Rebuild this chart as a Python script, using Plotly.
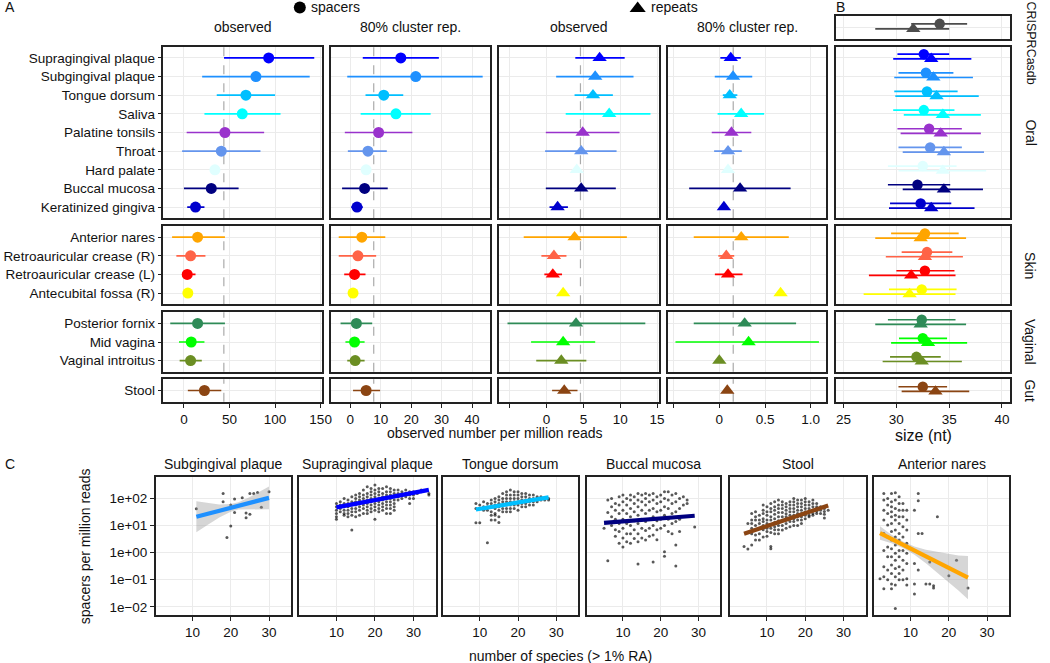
import plotly.graph_objects as go

W, H = 1050, 663
FONT = "Liberation Sans, Arial, sans-serif"
GRID = "#EBEBEB"
BORDER = "#222222"
TXT = "#111111"
TICKSIZE = 13.5

# ------------------------------------------------------------------ data
oral_sites = ["Supragingival plaque", "Subgingival plaque", "Tongue dorsum", "Saliva",
              "Palatine tonsils", "Throat", "Hard palate", "Buccal mucosa", "Keratinized gingiva"]
skin_sites = ["Anterior nares", "Retroauricular crease (R)", "Retroauricular crease (L)",
              "Antecubital fossa (R)"]
vaginal_sites = ["Posterior fornix", "Mid vagina", "Vaginal introitus"]
gut_sites = ["Stool"]
body_groups = ["Oral", "Skin", "Vaginal", "Gut"]

site_colors = ["#0000FF", "#1E90FF", "#00BFFF", "#00FFFF", "#9932CC", "#6495ED", "#E0FFFF",
               "#000080", "#0000CD", "#FFA500", "#FF6347", "#FF0000", "#FFFF00",
               "#2E8B57", "#00FF00", "#6B8E23", "#8B4513"]
db_color = "#4D4D4D"

# spacers, observed
sp_obs = [93, 79, 68, 64, 45, 41, 34, 30, 12.7, 15, 7.3, 3.6, 4.3, 15, 8, 7.3, 22.5]
sp_obs_lo = [44, 20, 36, 22.5, 3, -2, None, 0, 3.6, -13, -8.3, -2, None, -15, -5.4, -4.7, 4.3]
sp_obs_hi = [143, 138, 100, 106, 88, 84, None, 60, 22.5, 45, 23.6, 12.7, None, 45, 22.5, 19.6, 41]
# spacers, 80% cluster rep.
sp_rep = [16.6, 21.5, 11, 15, 9.3, 5.8, 5.2, 4.7, 2.2, 3.8, 2.5, 1.4, 0.9, 2, 1.4, 1.6, 5.2]
sp_rep_lo = [4.1, -1, 5, 3.4, -1.8, -0.8, None, -2.7, 0.3, -3.8, -3.8, -2, None, -3.2, -1.6, -1, 0.9]
sp_rep_hi = [29.1, 43.5, 17.4, 26.4, 20.4, 12, None, 12.3, 4.1, 11.5, 8.5, 5, None, 7.2, 4.7, 4.7, 9.8]
# repeats, observed
rp_obs = [7.2, 6.6, 6.3, 8.5, 4.9, 4.7, 4.1, 4.7, 1.5, 3.8, 1.0, 0.85, 2.25, 4.0, 2.25, 2.0, 2.4]
rp_obs_lo = [3.9, 1.3, 3.8, 2.6, -0.1, -0.2, None, -0.1, 0.4, -3.1, -0.7, -0.3, None, -5.3, -2.1, -1.4, 0.75]
rp_obs_hi = [10.6, 11.8, 9.0, 14.1, 9.9, 9.5, None, 9.4, 2.9, 10.9, 2.7, 2.1, None, 13.4, 6.6, 5.4, 4.2]
# repeats, 80% cluster rep.
rp_rep = [0.125, 0.15, 0.114, 0.239, 0.133, 0.095, 0.095, 0.227, 0.05, 0.24, 0.076, 0.095, 0.67,
          0.277, 0.32, 0.0, 0.087]
rp_rep_lo = [0.011, -0.05, 0.038, -0.019, -0.083, -0.057, None, -0.33, None, -0.28, -0.011, -0.049,
             None, -0.28, -0.48, None, None]
rp_rep_hi = [0.235, 0.36, 0.197, 0.49, 0.35, 0.246, None, 0.78, None, 0.76, 0.163, 0.254, None,
             0.84, 1.09, None, None]
mean_lines = [43.8, 7.7, 4.6, 0.152]

# B: size (nt)
size_sp = [32.6, 32.8, 32.9, 32.6, 33.1, 33.2, 32.5, 32.0, 32.3, 32.7, 32.9, 32.7, 32.4, 32.4, 32.5, 31.9, 32.5]
size_sp_lo = [30.1, 30.2, 29.8, 29.7, 30.1, 30.2, 29.2, 29.2, 29.4, 29.5, 30.5, 30.0, 29.3, 29.2, 30.25, 29.4, 30.2]
size_sp_hi = [35.0, 35.4, 35.8, 35.5, 36.2, 36.2, 35.7, 35.1, 35.2, 35.9, 35.3, 35.5, 35.7, 35.6, 34.8, 34.2, 34.8]
size_rp = [33.3, 33.5, 33.8, 34.4, 34.2, 34.5, 34.4, 34.5, 33.3, 32.3, 32.7, 31.4, 31.25, 32.3, 33.0, 32.4, 33.7]
size_rp_lo = [29.7, 29.8, 29.9, 30.7, 30.4, 30.6, 30.2, 30.6, 29.3, 28.0, 29.0, 27.4, 26.9, 28.0, 29.5, 28.7, 30.5]
size_rp_hi = [37.1, 37.25, 37.8, 38.0, 38.0, 38.3, 38.5, 38.2, 37.4, 36.6, 36.3, 35.6, 35.6, 36.6, 36.7, 36.2, 36.9]
db_size_sp = [34.1, 31.4, 36.7]
db_size_rp = [31.6, 28.0, 35.0]

# C: spacers per million reads vs number of species
c_titles = ["Subgingival plaque", "Supragingival plaque", "Tongue dorsum", "Buccal mucosa", "Stool",
            "Anterior nares"]
c_colors = ["#1E90FF", "#0000FF", "#00BFFF", "#000080", "#8B4513", "#FFA500"]

sub_x = [11, 18, 18, 19, 20, 20, 21, 21, 23, 24, 24, 25, 25, 26, 27, 28, 30]
sub_y = [42, 153, 75, 3.6, 57, 9.6, 95, 30, 105, 29, 19.5, 26, 153, 152, 166, 47, 176]

supra_x = [10, 11, 12, 13, 14, 15, 16, 17, 18, 19, 20, 21, 22, 23, 24, 25, 26, 27, 28, 29, 30, 31, 32, 34]
supra_y = [[65, 49, 37, 28, 21, 17], [75, 57, 43, 32], [100, 65, 49, 37, 28, 24],
           [87, 65, 49, 37, 28, 21], [115, 75, 57, 43, 32, 24, 6.8], [133, 100, 75, 57, 43, 32, 21],
           [153, 115, 87, 65, 49, 37, 24], [203, 133, 100, 75, 57, 43, 28],
           [270, 153, 115, 87, 65, 49, 37, 28], [234, 176, 133, 100, 75, 57, 43, 32],
           [310, 203, 153, 115, 87, 65, 49, 37, 17], [234, 176, 133, 100, 75, 57, 43, 32],
           [234, 153, 115, 87, 65, 49, 37], [270, 176, 133, 100, 75, 57, 43, 28],
           [234, 176, 133, 100, 75, 57, 43, 28], [203, 153, 115, 87, 65, 49, 37],
           [203, 153, 115, 87], [176, 133, 100], [203, 153, 115], [176, 133, 100, 65],
           [176, 133, 100], [176, 153], [203, 176], [153, 134]]

tongue_x = [9, 10, 11, 12, 13, 14, 15, 16, 17, 18, 19, 20, 21, 22, 23, 24, 25, 26, 27, 28]
tongue_y = [[65, 43, 12.6], [57, 43, 12.6], [75, 49, 37], [65, 49, 37, 2.3], [87, 65, 49, 32, 24, 16],
            [100, 75, 57, 43, 28, 24, 16], [115, 87, 65, 49, 37, 21, 13], [153, 100, 75, 57, 43, 32],
            [176, 133, 100, 75, 57, 43, 32], [203, 133, 100, 75, 57, 43, 32],
            [176, 133, 100, 75, 57, 43], [176, 133, 100, 75, 57, 37], [153, 115, 87, 65, 49],
            [153, 115, 87, 65, 49], [133, 100, 75, 57], [133, 100, 75, 57], [115, 100, 75],
            [115, 87], [100, 87], [100, 87]]

buccal_x = [5, 6, 7, 8, 9, 10, 11, 12, 13, 14, 15, 16, 17, 18, 19, 20, 21, 22, 23, 24, 25, 26, 27, 29]
buccal_y = [[8], [87, 30, 0.5], [100, 49, 21, 10], [65, 37, 17, 7, 4], [115, 57, 28, 12, 6, 2.2],
            [133, 75, 37, 17, 8, 3.5, 1.6], [100, 57, 28, 12, 5, 2.5],
            [133, 87, 43, 21, 10, 5, 2.2], [115, 65, 32, 15, 7, 3.3],
            [153, 87, 49, 24, 12, 5, 2.5, 0.38], [133, 75, 37, 17, 8, 3.5],
            [153, 100, 57, 28, 14, 6.5, 2.9], [133, 75, 37, 17, 8, 4],
            [153, 87, 43, 21, 10, 4.5, 0.45], [115, 65, 32, 15, 7, 3], [133, 75, 37, 17, 8],
            [176, 100, 49, 24, 10, 1.07, 0.74], [176, 87, 43, 17, 6], [133, 65, 28, 12, 5],
            [153, 75, 32, 14, 1.9, 0.32], [100, 43, 17, 6], [115, 57], [87, 65], [8.9]]

stool_x = [4, 5, 6, 7, 8, 9, 10, 11, 12, 13, 14, 15, 16, 17, 18, 19, 20, 21, 22, 23, 24, 25, 26]
stool_y = [[1.7], [12, 1.35], [28, 16, 12, 8, 5, 1.9], [32, 21, 16, 10, 7, 4.5, 2.9],
           [24, 16, 12, 8, 5, 2.9], [57, 37, 28, 18, 14, 10, 7, 3.8], [49, 32, 24, 16, 12, 8, 6, 4],
           [65, 43, 32, 21, 16, 11, 8, 5.5, 1.7, 1.4], [75, 49, 37, 26, 18, 13, 9, 7, 5],
           [87, 57, 43, 30, 21, 15, 10, 7, 5], [75, 57, 43, 30, 21, 15, 10, 6.8],
           [65, 49, 37, 27, 21, 16, 12, 8], [75, 57, 43, 32, 24, 18, 14, 9],
           [100, 75, 57, 43, 32, 24, 18, 14, 10], [87, 65, 49, 37, 28, 21, 16, 10],
           [87, 65, 49, 37, 28, 21, 16, 12], [100, 75, 57, 43, 32, 24, 18],
           [75, 57, 43, 32, 24, 21], [87, 65, 49, 37, 28, 24], [65, 49, 43, 34, 28],
           [49, 37, 28], [43, 33, 26, 19], [37]]

nares_x = [2, 3, 4, 5, 6, 7, 8, 9, 11, 12, 13, 14, 15, 16, 17, 20, 22, 25]
nares_y = [[0.11],
           [153, 87, 37, 16, 5.1, 1.2, 0.3, 0.13, 0.047],
           [100, 57, 28, 10.4, 3.8, 1.6, 0.7, 0.23, 0.1],
           [153, 75, 49, 32, 21, 12, 6, 2.9, 1.4, 0.7, 0.35, 0.17, 0.07, 0.047],
           [162, 87, 43, 24, 16, 6.8, 3.8, 1.9, 0.95, 0.53, 0.26, 0.13, 0.064, 0.0087],
           [115, 65, 37, 21, 12, 5.1, 2.9, 1.2, 0.7, 0.3, 0.17, 0.1],
           [65, 37, 21, 9, 3.8, 1.2, 0.53, 0.23, 0.1],
           [37, 16, 6.8, 2.2, 0.95, 0.4, 0.11, 0.064],
           [37, 0.4, 0.07, 0.03],
           [153, 82, 5.1, 0.23],
           [5.1],
           [0.07],
           [0.45, 0.07],
           [0.06, 0.05],
           [21],
           [0.14],
           [0.53],
           [0.05]]

fit_x = [[11, 30], [10, 34], [9, 28], [5, 29], [4, 26], [2, 25]]
fit_y = [[21, 105], [47, 208], [39, 109], [12.5, 23], [5, 55], [5.3, 0.12]]

sub_ci_x = [11, 14, 17, 20, 22, 25, 28, 30]
sub_ci_lo = [5.6, 10.7, 20, 32, 39, 41, 40, 40]
sub_ci_hi = [78, 68, 60, 62, 72, 114, 193, 275]
nares_ci_x = [2, 5, 8, 11, 14, 17, 20, 22.5, 25]
nares_ci_lo = [3.0, 2.2, 1.48, 0.84, 0.41, 0.18, 0.081, 0.040, 0.019]
nares_ci_hi = [9.5, 4.6, 2.56, 1.67, 1.28, 1.06, 0.89, 0.79, 0.76]

# ------------------------------------------------------------------ helpers
fig = go.Figure()
layout = {}
annotations = []
shapes = []
n_axes = [0]


def new_axes(xpx, ypx, xrange, yrange, xopts=None, yopts=None):
    n_axes[0] += 1
    n = n_axes[0]
    s = "" if n == 1 else str(n)
    xa = dict(domain=[xpx[0] / W, xpx[1] / W], range=xrange, anchor="y" + s,
              showgrid=True, gridcolor=GRID, gridwidth=1.1, zeroline=False,
              showline=True, mirror=True, linecolor=BORDER, linewidth=1.6,
              ticks="", showticklabels=False, fixedrange=True,
              tickfont=dict(family=FONT, size=TICKSIZE, color=TXT))
    ya = dict(domain=[1 - ypx[1] / H, 1 - ypx[0] / H], range=yrange, anchor="x" + s,
              showgrid=True, gridcolor=GRID, gridwidth=1.1, zeroline=False,
              showline=True, mirror=True, linecolor=BORDER, linewidth=1.6,
              ticks="", showticklabels=False, fixedrange=True,
              tickfont=dict(family=FONT, size=TICKSIZE, color=TXT))
    if xopts:
        xa.update(xopts)
    if yopts:
        ya.update(yopts)
    layout["xaxis" + s] = xa
    layout["yaxis" + s] = ya
    return "x" + s, "y" + s


def text(x, y, s, size=14, xanchor="center", yanchor="middle", angle=0):
    annotations.append(dict(x=x / W, y=1 - y / H, xref="paper", yref="paper", text=s,
                            showarrow=False, xanchor=xanchor, yanchor=yanchor, textangle=angle,
                            font=dict(family=FONT, size=size, color=TXT)))


def point(xa, ya, x, y, lo, hi, color, symbol, size):
    err = None
    if lo is not None and hi is not None:
        err = dict(type="data", symmetric=False, array=[hi - x], arrayminus=[x - lo],
                   color=color, thickness=1.7, width=0)
    fig.add_trace(go.Scatter(x=[x], y=[y], mode="markers", xaxis=xa, yaxis=ya,
                             marker=dict(color=color, symbol=symbol, size=size,
                                         line=dict(width=0)),
                             error_x=err, showlegend=False, hoverinfo="skip"))


# ------------------------------------------------------------------ panel A & B
group_sites = [oral_sites, skin_sites, vaginal_sites, gut_sites]
rows_px = [(46.7, 218.3), (226, 304.3), (312.3, 371.7), (379.3, 401.7)]
db_row_px = (15.7, 39)
cols_px = [(165, 325), (334, 495), (504.2, 664.9), (674.3, 834.3)]
b_px = (844, 1019.3)
col_ranges = [[-22.5, 151.4], [-6.4, 46], [-6.4, 15.2], [-0.563, 1.171]]
col_ticks = [([0, 50, 100, 150], ["0", "50", "100", "150"]),
             ([0, 10, 20, 30, 40], ["0", "10", "20", "30", "40"]),
             ([-5, 0, 5, 10, 15], ["", "0", "5", "10", "15"]),
             ([-0.5, 0, 0.5, 1.0], ["", "0", "0.5", "1.0"])]
col_data = [(sp_obs, sp_obs_lo, sp_obs_hi, "circle", 11),
            (sp_rep, sp_rep_lo, sp_rep_hi, "circle", 11),
            (rp_obs, rp_obs_lo, rp_obs_hi, "triangle-up", 12.5),
            (rp_rep, rp_rep_lo, rp_rep_hi, "triangle-up", 12.5)]

for c in range(4):
    vals, los, his, sym, msize = col_data[c]
    offset = 0
    for g, sites in enumerate(group_sites):
        n = len(sites)
        last = g == len(group_sites) - 1
        xopts = dict(tickvals=col_ticks[c][0], ticktext=col_ticks[c][1])
        if last:
            xopts.update(showticklabels=True, ticks="outside", ticklen=4, tickcolor=BORDER)
        yopts = dict(tickvals=list(range(n)), ticktext=sites)
        if c == 0:
            yopts.update(showticklabels=True, ticks="outside", ticklen=4, tickcolor=BORDER)
        xa, ya = new_axes(cols_px[c], rows_px[g], col_ranges[c], [n - 0.4, -0.6], xopts, yopts)
        shapes.append(dict(type="line", xref=xa, yref=ya + " domain", x0=mean_lines[c],
                           x1=mean_lines[c], y0=0, y1=1, layer="below",
                           line=dict(color="#AAAAAA", width=1.2, dash="dash")))
        for i in range(n):
            k = offset + i
            point(xa, ya, vals[k], i, los[k], his[k], site_colors[k], sym, msize)
        offset += n

# B panel
b_range = [24.28, 40.72]
b_ticks = [25, 30, 35, 40]
xa, ya = new_axes(b_px, db_row_px, b_range, [0.6, -0.6], dict(tickvals=b_ticks),
                  dict(tickvals=[0]))
point(xa, ya, db_size_sp[0], -0.18, db_size_sp[1], db_size_sp[2], db_color, "circle", 10.5)
point(xa, ya, db_size_rp[0], 0.08, db_size_rp[1], db_size_rp[2], db_color, "triangle-up", 12.5)
offset = 0
for g, sites in enumerate(group_sites):
    n = len(sites)
    last = g == len(group_sites) - 1
    xopts = dict(tickvals=b_ticks)
    if last:
        xopts.update(showticklabels=True, ticks="outside", ticklen=4, tickcolor=BORDER)
    xa, ya = new_axes(b_px, rows_px[g], b_range, [n - 0.4, -0.6], xopts,
                      dict(tickvals=list(range(n))))
    for i in range(n):
        k = offset + i
        point(xa, ya, size_sp[k], i - 0.2, size_sp_lo[k], size_sp_hi[k], site_colors[k],
              "circle", 10.5)
    for i in range(n):
        k = offset + i
        point(xa, ya, size_rp[k], i + 0.05, size_rp_lo[k], size_rp_hi[k], site_colors[k],
              "triangle-up", 12.5)
    offset += n

# ------------------------------------------------------------------ panel C
c_px = [(157.3, 294), (302.3, 440), (447.3, 584), (592.3, 727.3), (737.3, 874), (882.3, 1019)]
c_ypx = (477.3, 615)
c_points = [(sub_x, [[v] for v in sub_y]), (supra_x, supra_y), (tongue_x, tongue_y),
            (buccal_x, buccal_y), (stool_x, stool_y), (nares_x, nares_y)]
bands = {0: (sub_ci_x, sub_ci_lo, sub_ci_hi), 5: (nares_ci_x, nares_ci_lo, nares_ci_hi)}
for p in range(6):
    xopts = dict(tickvals=[10, 20, 30], showticklabels=True, ticks="outside", ticklen=4,
                 tickcolor=BORDER)
    yopts = dict(type="log", tickvals=[0.01, 0.1, 1, 10, 100])
    if p == 0:
        yopts.update(showticklabels=True, ticks="outside", ticklen=4, tickcolor=BORDER,
                     ticktext=["1e\u221202", "1e\u221201", "1e+00", "1e+01", "1e+02"])
    xa, ya = new_axes(c_px[p], c_ypx, [0.4, 35.8], [-2.3, 2.78], xopts, yopts)
    xs, ys = c_points[p]
    px, py = [], []
    for xv, col in zip(xs, ys):
        for yv in col:
            px.append(xv)
            py.append(yv)
    fig.add_trace(go.Scatter(x=px, y=py, mode="markers", xaxis=xa, yaxis=ya,
                             marker=dict(color="rgba(0,0,0,0.65)", size=3, line=dict(width=0)),
                             showlegend=False, hoverinfo="skip"))
    if p in bands:
        bx, blo, bhi = bands[p]
        fig.add_trace(go.Scatter(x=bx + bx[::-1], y=bhi + blo[::-1], mode="lines",
                                 xaxis=xa, yaxis=ya, fill="toself",
                                 fillcolor="rgba(153,153,153,0.4)", line=dict(width=0),
                                 showlegend=False, hoverinfo="skip"))
    fig.add_trace(go.Scatter(x=fit_x[p], y=fit_y[p], mode="lines", xaxis=xa, yaxis=ya,
                             line=dict(color=c_colors[p], width=4.2),
                             showlegend=False, hoverinfo="skip"))
    text((c_px[p][0] + c_px[p][1]) / 2, 463.7, c_titles[p], 14)

# ------------------------------------------------------------------ overlay (legend keys)
xa, ya = new_axes((0, W), (0, H), [0, W], [H, 0],
                  dict(visible=False, showgrid=False, showline=False),
                  dict(visible=False, showgrid=False, showline=False))
fig.add_trace(go.Scatter(x=[302.7], y=[7.5], mode="markers", xaxis=xa, yaxis=ya,
                         marker=dict(color="black", symbol="circle", size=12),
                         showlegend=False, hoverinfo="skip"))
fig.add_trace(go.Scatter(x=[643.8], y=[8.5], mode="markers", xaxis=xa, yaxis=ya,
                         marker=dict(color="black", symbol="triangle-up", size=14),
                         showlegend=False, hoverinfo="skip"))

# ------------------------------------------------------------------ texts
text(3, 7, "A", 14, xanchor="left")
text(842, 7, "B", 14, xanchor="left")
text(3, 464, "C", 14, xanchor="left")
text(312, 7.5, "spacers", 14, xanchor="left")
text(655, 7.5, "repeats", 14, xanchor="left")
for c, t in enumerate(["observed", "80% cluster rep.", "observed", "80% cluster rep."]):
    text((cols_px[c][0] + cols_px[c][1]) / 2, 27, t, 14)
text(1040, 42.5, "CRISPRCasdb", 12.5, angle=90)
for s, (a, b) in zip(body_groups, rows_px):
    text(1040, (a + b) / 2, s, 14, angle=90)
text(500, 433, "observed number per million reads", 14)
text(932, 435, "size (nt)", 16)
text(566, 656, "number of species (> 1% RA)", 14)
text(86, 546, "spacers per million reads", 14, angle=-90)

layout.update(width=W, height=H, margin=dict(l=0, r=0, t=0, b=0), autosize=False,
              paper_bgcolor="white", plot_bgcolor="rgba(0,0,0,0)",
              annotations=annotations, shapes=shapes, showlegend=False,
              font=dict(family=FONT, size=13, color=TXT))
fig.update_layout(**layout)
fig.write_html("out.html", post_script="document.body.style.margin='0';",
               config={"displayModeBar": False})
